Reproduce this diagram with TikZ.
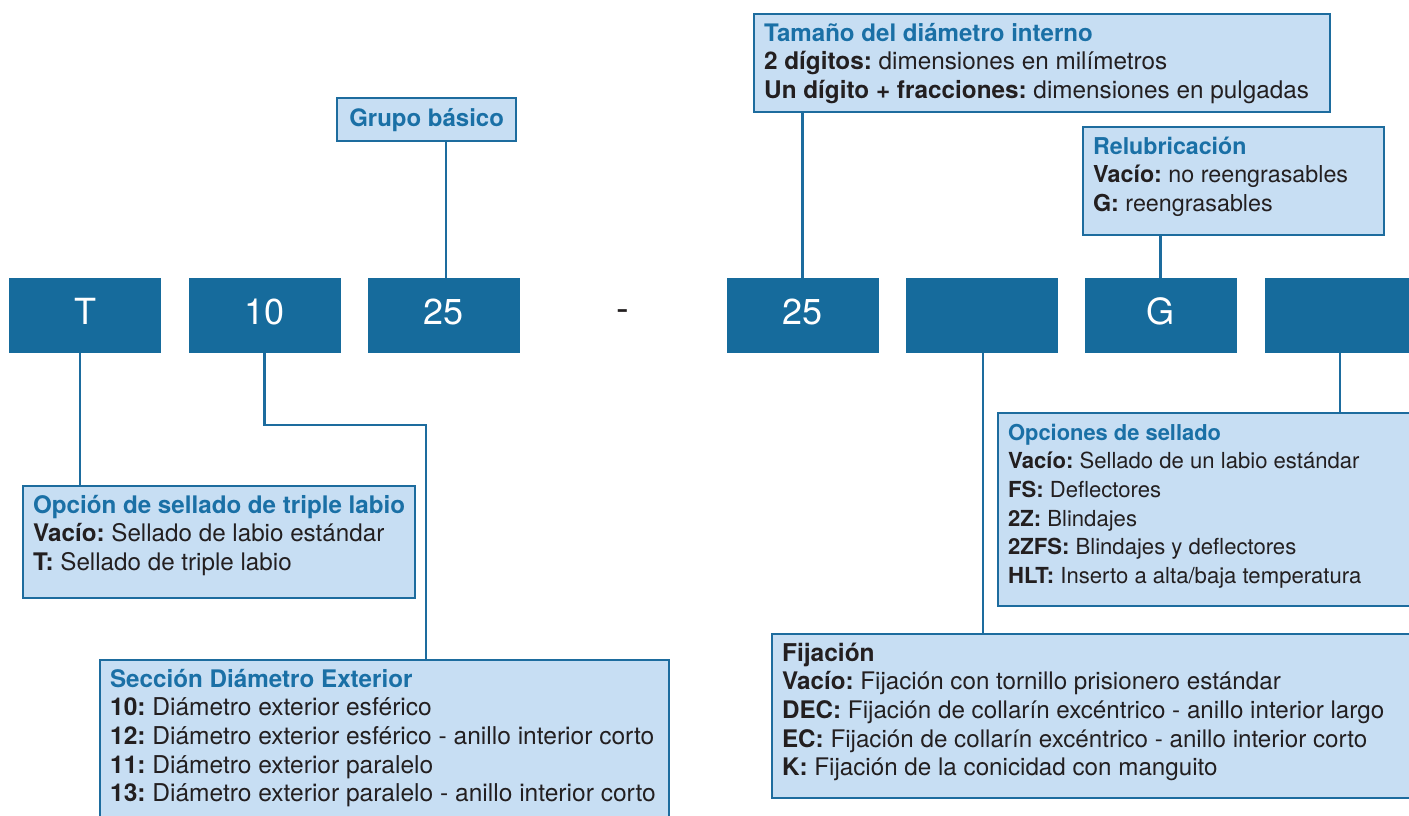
\documentclass[tikz,border=0pt]{standalone}
\usepackage{fontspec}
\setmainfont{TeX Gyre Heros}
\definecolor{codeblue}{HTML}{166B9C}
\definecolor{lightfill}{HTML}{C7DEF3}
\definecolor{edgeblue}{HTML}{1D6C9E}
\definecolor{titleblue}{HTML}{1A70A6}
\definecolor{bodytext}{HTML}{231F20}
\newcommand{\ttlsize}{24}
\newcommand{\ttl}[1]{{\fontsize{\ttlsize}{28.7}\selectfont\bfseries\color{titleblue}#1}}
\newcommand{\kw}[1]{\textbf{#1}}
% #1 width, #2 height, #3 body size, #4 title size, #5 content
\newcommand{\infotext}[5]{\parbox[t][#2pt][t]{#1pt}{\renewcommand{\ttlsize}{#4}\fontsize{#3}{28.7}\selectfont\frenchspacing\color{bodytext}\raggedright\strut #5}}
\tikzset{
  codebox/.style={fill=codeblue, draw=none, minimum width=152pt, minimum height=75pt, inner sep=0pt,
    text=white, font=\fontsize{36}{40}\selectfont, text height=26pt, text depth=9pt},
  infobox/.style={fill=lightfill, draw=edgeblue, line width=2.2pt, anchor=north west,
    inner xsep=10pt, inner ysep=7pt, align=left},
  conn/.style={draw=edgeblue, line width=2.2pt},
}
\begin{document}
\begin{tikzpicture}[x=1pt,y=-1pt]
\useasboundingbox (0,0) rectangle (1409,816);
% code row
\node[codebox] (b1) at (85,315.5) {T};
\node[codebox] (b2) at (264.5,315.5) {10};
\node[codebox] (b3) at (443.5,315.5) {25};
\node[text=bodytext, font=\fontsize{38}{40}\selectfont, inner sep=0pt] (dash) at (623,316) {-};
\node[codebox] (b4) at (802.5,315.5) {25};
\node[codebox] (b5) at (981.5,315.5) {};
\node[codebox] (b6) at (1160.5,315.5) {G};
\node[codebox] (b7) at (1341,315.5) {};

% info boxes
\node[infobox, minimum width=179pt, minimum height=43pt, inner sep=0pt, align=center] (grp) at (336,97)
  {\ttl{Grupo básico}};

\node[infobox] (tam) at (753,13) {\infotext{556}{84}{24.3}{24.1}{%
  \ttl{Tamaño del diámetro interno}\\
  \kw{2 dígitos:} dimensiones en milímetros\\
  \kw{Un dígito + fracciones:} dimensiones en pulgadas}};

\node[infobox] (rel) at (1082,126) {\infotext{281}{94}{23.3}{23.2}{%
  \ttl{Relubricación}\\
  \kw{Vacío:} no reengrasables\\
  \kw{G:} reengrasables}};

\node[infobox] (opc) at (997,412) {\infotext{422}{179}{22.1}{21.9}{%
  \ttl{Opciones de sellado}\\
  \kw{Vacío:} Sellado de un labio estándar\\
  \kw{FS:} Deflectores\\
  \kw{2Z:} Blindajes\\
  \kw{2ZFS:} Blindajes y deflectores\\
  \kw{HLT:} Inserto a alta/baja temperatura}};

\node[infobox] (fij) at (771,633) {\infotext{662}{150}{24.2}{24.5}{%
  {\fontsize{24.5}{28.7}\selectfont\bfseries Fijación}\\
  \kw{Vacío:} Fijación con tornillo prisionero estándar\\
  \kw{DEC:} Fijación de collarín excéntrico - anillo interior largo\\
  \kw{EC:} Fijación de collarín excéntrico - anillo interior corto\\
  \kw{K:} Fijación de la conicidad con manguito}};

\node[infobox] (tri) at (22,485) {\infotext{372}{98}{24.2}{24.2}{%
  \ttl{Opción de sellado de triple labio}\\
  \kw{Vacío:} Sellado de labio estándar\\
  \kw{T:} Sellado de triple labio}};

\node[infobox] (sec) at (99,659) {\infotext{549}{170}{24.55}{24.2}{%
  \ttl{Sección Diámetro Exterior}\\
  \kw{10:} Diámetro exterior esférico\\
  \kw{12:} Diámetro exterior esférico - anillo interior corto\\
  \kw{11:} Diámetro exterior paralelo\\
  \kw{13:} Diámetro exterior paralelo - anillo interior corto}};

% connectors
\draw[conn] ([xshift=-5pt]b1.south) -- ([xshift=-5pt]b1.south |- tri.north);
\draw[conn] (b2.south) -- ++(0,72) -| (sec.north -| 426,0);
\draw[conn] ([xshift=2.5pt]b3.north) -- ([xshift=2.5pt]b3.north |- grp.south);
\draw[conn] (b4.north) -- (b4.north |- tam.south);
\draw[conn] ([xshift=1.5pt]b5.south) -- ([xshift=1.5pt]b5.south |- fij.north);
\draw[conn] (b6.north) -- (b6.north |- rel.south);
\draw[conn] ([xshift=-1pt]b7.south) -- ([xshift=-1pt]b7.south |- opc.north);
\end{tikzpicture}
\end{document}
